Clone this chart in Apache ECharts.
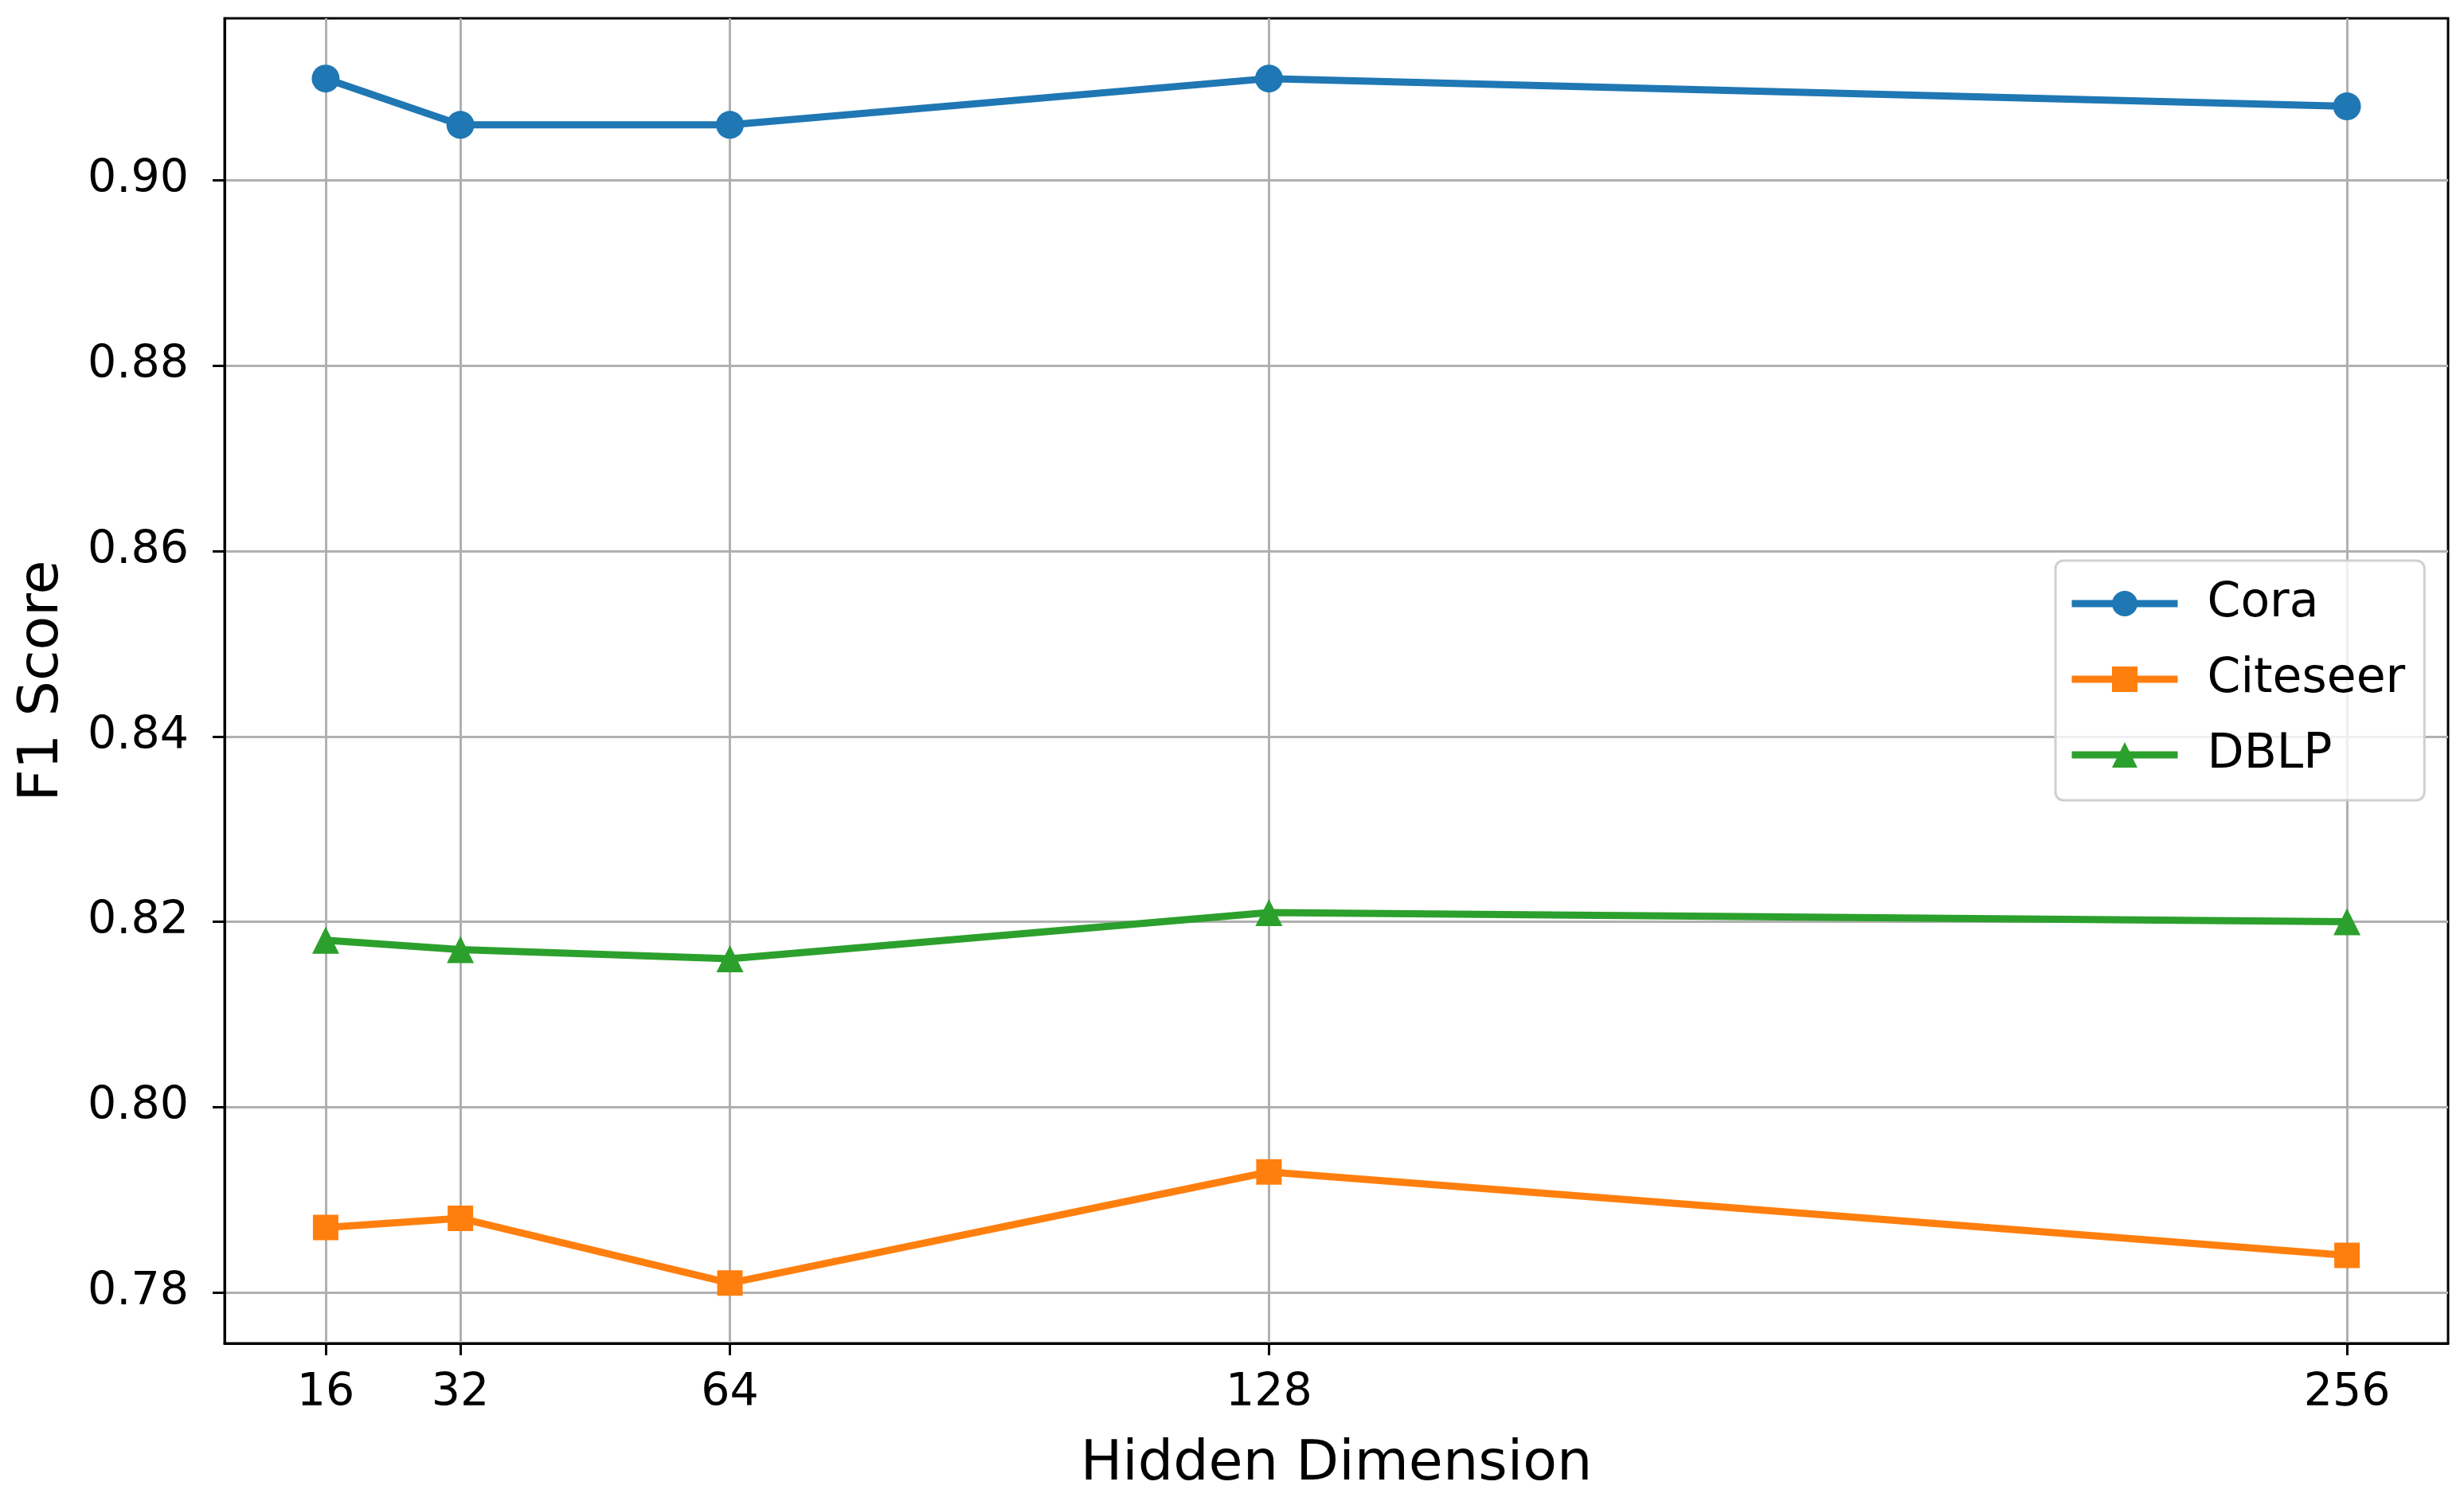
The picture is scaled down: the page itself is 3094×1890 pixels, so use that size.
<!DOCTYPE html>
<html>
<head>
<meta charset="utf-8">
<script src="https://cdn.jsdelivr.net/npm/echarts@6/dist/echarts.min.js"></script>
<style>
html,body{margin:0;padding:0;background:#fff;}
#chart{width:3094px;height:1890px;}
</style>
</head>
<body>
<div id="chart"></div>
<script>
const hiddenDims = [16, 32, 64, 128, 256];
const cora = [0.911, 0.906, 0.906, 0.911, 0.908];
const citeseer = [0.787, 0.788, 0.781, 0.793, 0.784];
const dblp = [0.818, 0.817, 0.816, 0.821, 0.820];
const yTicks = [0.78, 0.80, 0.82, 0.84, 0.86, 0.88, 0.90];
const seriesNames = ['Cora', 'Citeseer', 'DBLP'];

const FONT = 'DejaVu Sans';
const chart = echarts.init(document.getElementById('chart'), null, {renderer: 'canvas'});

function pairs(vals) { return hiddenDims.map((x, i) => [x, vals[i]]); }

const colors = ['#1f77b4', '#ff7f0e', '#2ca02c'];
const symbols = ['circle', 'rect', 'triangle'];
const sizes = [35, 32, 34];
const dataSets = [cora, citeseer, dblp];

chart.setOption({
  animation: false,
  backgroundColor: '#ffffff',
  grid: {
    left: 282, right: 20, top: 23, bottom: 203,
    show: true, borderColor: '#000', borderWidth: 3, backgroundColor: 'transparent'
  },
  xAxis: {
    type: 'value', min: 4, max: 268,
    name: 'Hidden Dimension', nameLocation: 'middle', nameGap: 118,
    nameTextStyle: {fontFamily: FONT, fontSize: 70, color: '#000', lineHeight: 70},
    axisLine: {show: true, onZero: false, lineStyle: {color: '#000', width: 3}},
    axisTick: {show: true, length: 15, lineStyle: {color: '#000', width: 3}, customValues: hiddenDims},
    axisLabel: {customValues: hiddenDims, fontFamily: FONT, fontSize: 57, color: '#000', margin: 35, lineHeight: 57,
      formatter: v => String(v)},
    splitLine: {show: true, lineStyle: {color: '#b0b0b0', width: 3}}
  },
  yAxis: {
    type: 'value', min: 0.7745, max: 0.9175,
    name: 'F1 Score', nameLocation: 'middle', nameGap: 193, nameRotate: 90,
    nameTextStyle: {fontFamily: FONT, fontSize: 70, color: '#000', lineHeight: 70},
    axisLine: {show: true, onZero: false, lineStyle: {color: '#000', width: 3}},
    axisTick: {show: true, length: 15, lineStyle: {color: '#000', width: 3}, customValues: yTicks},
    axisLabel: {customValues: yTicks, fontFamily: FONT, fontSize: 57, color: '#000', margin: 45,
      formatter: v => v.toFixed(2)},
    splitLine: {show: true, lineStyle: {color: '#b0b0b0', width: 3}}
  },
  legend: {
    show: true, orient: 'vertical', left: 2581, top: 704,
    padding: [24, 24, 27, 16],
    itemWidth: 133, itemHeight: 40, itemGap: 35,
    backgroundColor: 'rgba(255,255,255,0.8)',
    borderColor: '#d0d0d0', borderWidth: 3, borderRadius: 10,
    lineStyle: {width: 9},
    textStyle: {fontFamily: FONT, fontSize: 60, color: '#000', lineHeight: 60, padding: [0, 0, 0, 32]},
    data: seriesNames
  },
  series: seriesNames.map((n, i) => ({
    name: n, type: 'line', data: pairs(dataSets[i]),
    symbol: symbols[i], symbolSize: sizes[i], showSymbol: true,
    lineStyle: {color: colors[i], width: 9},
    itemStyle: {color: colors[i]},
    z: 3
  }))
});
</script>
</body>
</html>
